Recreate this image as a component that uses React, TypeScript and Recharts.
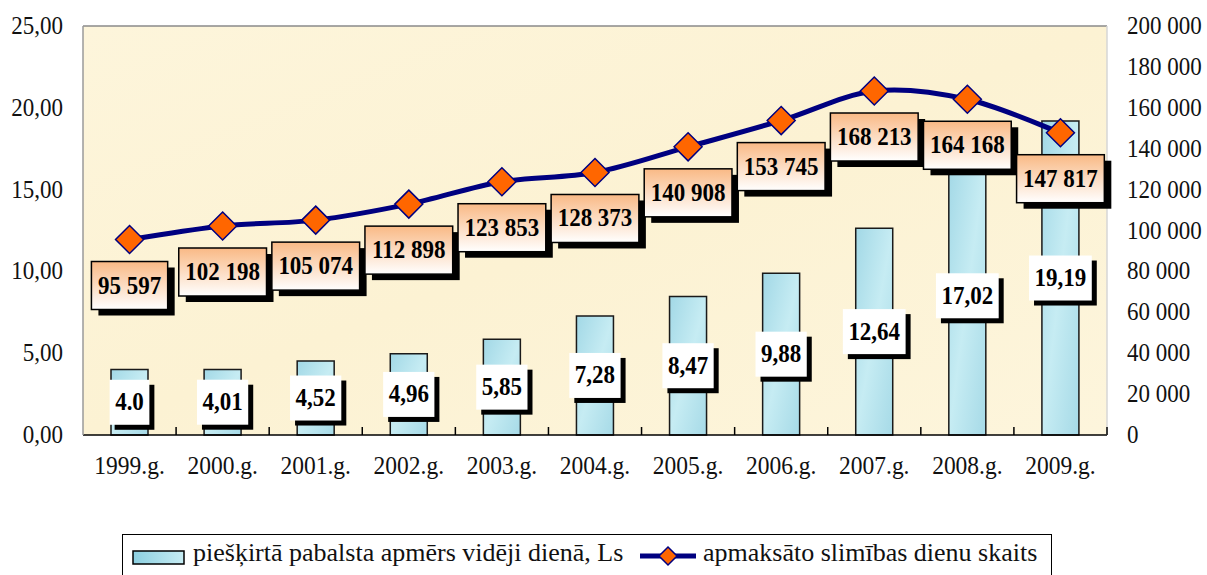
import {
  ComposedChart,
  Bar,
  Line,
  XAxis,
  YAxis,
  CartesianGrid,
  LabelList,
  ReferenceLine,
} from "recharts";

const years = ["1999.g.", "2000.g.", "2001.g.", "2002.g.", "2003.g.", "2004.g.", "2005.g.", "2006.g.", "2007.g.", "2008.g.", "2009.g."];
const benefit = [4.0, 4.01, 4.52, 4.96, 5.85, 7.28, 8.47, 9.88, 12.64, 17.02, 19.19];
const benefitLabels = ["4.0", "4,01", "4,52", "4,96", "5,85", "7,28", "8,47", "9,88", "12,64", "17,02", "19,19"];
const sickDays = [95597, 102198, 105074, 112898, 123853, 128373, 140908, 153745, 168213, 164168, 147817];
const leftTicks = [0, 5, 10, 15, 20, 25];
const rightTicks = [0, 20000, 40000, 60000, 80000, 100000, 120000, 140000, 160000, 180000, 200000];

const data = years.map((year, i) => ({
  year,
  benefit: benefit[i],
  benefitLabel: benefitLabels[i],
  sickDays: sickDays[i],
}));

const W = 1207;
const H = 575;
const LEFT_W = 83;
const RIGHT_W = 100;
const BAND = (W - LEFT_W - RIGHT_W) / years.length;
const FONT = "'Liberation Serif', 'Times New Roman', serif";

const fmtLeft = (v: number) => v.toFixed(2).replace(".", ",");
const fmtRight = (v: number) => String(v).replace(/\B(?=(\d{3})+(?!\d))/g, " ");

// bold 23px serif: rough text width
function textWidth(s: string) {
  let w = 0;
  for (const ch of s) w += /\d/.test(ch) ? 11.5 : 5.75;
  return w;
}

// Excel-like smoothed line (Catmull-Rom)
function smoothCurve(context: any) {
  let pts: [number, number][] = [];
  return {
    areaStart() {},
    areaEnd() {},
    lineStart() {
      pts = [];
    },
    point(x: number, y: number) {
      pts.push([+x, +y]);
    },
    lineEnd() {
      if (!pts.length) return;
      context.moveTo(pts[0][0], pts[0][1]);
      for (let i = 0; i < pts.length - 1; i++) {
        const p0 = pts[i - 1] || pts[i];
        const p1 = pts[i];
        const p2 = pts[i + 1];
        const p3 = pts[i + 2] || p2;
        context.bezierCurveTo(
          p1[0] + (p2[0] - p0[0]) / 6,
          p1[1] + (p2[1] - p0[1]) / 6,
          p2[0] - (p3[0] - p1[0]) / 6,
          p2[1] - (p3[1] - p1[1]) / 6,
          p2[0],
          p2[1]
        );
      }
    },
  };
}

const XTick = (props: any) => {
  const { x, y, payload, index, visibleTicksCount } = props;
  return (
    <g>
      {index > 0 && <line x1={x - BAND / 2} x2={x - BAND / 2} y1={y - 8} y2={y} stroke="#000" strokeWidth={1.5} />}
      {index === visibleTicksCount - 1 && (
        <line x1={x + BAND / 2} x2={x + BAND / 2} y1={y - 8} y2={y} stroke="#000" strokeWidth={1.5} />
      )}
      <text
        transform={`translate(${x},${y + 39}) scale(1,1.08)`}
        textAnchor="middle"
        fontSize={23.5}
        fontFamily={FONT}
        fill="#111"
      >
        {payload.value}
      </text>
    </g>
  );
};

const YTick = (props: any) => {
  const { x, y, payload, anchor, fmt } = props;
  return (
    <text
      transform={`translate(${x},${y + 8}) scale(1,1.08)`}
      textAnchor={anchor}
      fontSize={23}
      fontFamily={FONT}
      fill="#111"
    >
      {fmt(payload.value)}
    </text>
  );
};

const Diamond = (props: any) => {
  const { cx, cy } = props;
  if (cx == null || cy == null) return null;
  const r = 14;
  return (
    <polygon
      points={`${cx},${cy - r} ${cx + r},${cy} ${cx},${cy + r} ${cx - r},${cy}`}
      fill="#FF6600"
      stroke="#000080"
      strokeWidth={1.5}
    />
  );
};

const BarLabel = (props: any) => {
  const { x, y, width, height, value } = props;
  const cx = x + width / 2;
  const cy = y + height / 2;
  const w = textWidth(String(value)) + 11;
  const h = 45;
  return (
    <g>
      <rect x={cx - w / 2 + 5} y={cy - h / 2 + 5} width={w} height={h} fill="#000" />
      <rect x={cx - w / 2} y={cy - h / 2} width={w} height={h} fill="#fff" />
      <text
        transform={`translate(${cx},${cy + 8}) scale(1,1.07)`}
        textAnchor="middle"
        fontSize={23}
        fontWeight="bold"
        fontFamily={FONT}
        fill="#000"
      >
        {value}
      </text>
    </g>
  );
};

const LineLabel = (props: any) => {
  const { x, y, value } = props;
  const s = fmtRight(value);
  const w = textWidth(s) + 13;
  const h = 48;
  const top = y + 22;
  return (
    <g>
      <rect x={x - w / 2 + 7} y={top + 6} width={w} height={h} fill="#000" />
      <rect x={x - w / 2} y={top} width={w} height={h} fill="url(#peach)" stroke="#000" strokeWidth={1.5} />
      <text
        transform={`translate(${x},${top + h / 2 + 8}) scale(1,1.07)`}
        textAnchor="middle"
        fontSize={23}
        fontWeight="bold"
        fontFamily={FONT}
        fill="#000"
      >
        {s}
      </text>
    </g>
  );
};

export default function App() {
  return (
    <div style={{ position: "absolute", left: 0, top: 0, width: W, height: H, background: "#fff", overflow: "hidden" }}>
      <ComposedChart width={W} height={H} data={data} margin={{ top: 26, right: 0, bottom: 0, left: 0 }}>
        <defs>
          <linearGradient id="peach" x1="0" y1="0" x2="0" y2="1">
            <stop offset="0%" stopColor="#F9B985" />
            <stop offset="100%" stopColor="#FFFFFF" />
          </linearGradient>
          <linearGradient id="water" x1="0" y1="0" x2="1" y2="1">
            <stop offset="0%" stopColor="#A2D8E6" />
            <stop offset="50%" stopColor="#C6ECF3" />
            <stop offset="100%" stopColor="#A6DAE7" />
          </linearGradient>
          <linearGradient id="paper" x1="0" y1="0" x2="1" y2="1">
            <stop offset="0%" stopColor="#FDF5DB" />
            <stop offset="50%" stopColor="#FCF2D3" />
            <stop offset="100%" stopColor="#FDF5DC" />
          </linearGradient>
        </defs>
        <CartesianGrid horizontal={false} vertical={false} fill="url(#paper)" />
        <XAxis
          dataKey="year"
          height={140}
          interval={0}
          tickLine={false}
          tickSize={0}
          tickMargin={0}
          axisLine={{ stroke: "#000", strokeWidth: 1.5 }}
          tick={<XTick />}
        />
        <YAxis
          yAxisId="left"
          domain={[0, 25]}
          ticks={leftTicks}
          width={LEFT_W}
          tickLine={false}
          tickSize={0}
          tickMargin={20}
          axisLine={{ stroke: "#9a9a9a", strokeWidth: 1.5 }}
          tick={<YTick anchor="end" fmt={fmtLeft} />}
        />
        <YAxis
          yAxisId="right"
          orientation="right"
          domain={[0, 200000]}
          ticks={rightTicks}
          width={RIGHT_W}
          tickLine={false}
          tickSize={0}
          tickMargin={20}
          axisLine={{ stroke: "#d6d6d6", strokeWidth: 1.5 }}
          tick={<YTick anchor="start" fmt={fmtRight} />}
        />
        <ReferenceLine yAxisId="left" y={25} stroke="#8a8a8a" strokeWidth={1.5} />
        <Bar
          yAxisId="left"
          dataKey="benefit"
          barSize={37}
          fill="url(#water)"
          stroke="#1a1a1a"
          strokeWidth={1.5}
          isAnimationActive={false}
        >
          <LabelList dataKey="benefitLabel" content={<BarLabel />} />
        </Bar>
        <Line
          yAxisId="right"
          dataKey="sickDays"
          type={smoothCurve as any}
          stroke="#000080"
          strokeWidth={5}
          dot={<Diamond />}
          activeDot={false}
          isAnimationActive={false}
        >
          <LabelList dataKey="sickDays" content={<LineLabel />} />
        </Line>
      </ComposedChart>
      <div
        style={{
          position: "absolute",
          left: 122,
          top: 534,
          width: 930,
          height: 60,
          border: "1.5px solid #000",
          boxSizing: "border-box",
          fontFamily: FONT,
          fontSize: 26,
          color: "#111",
          whiteSpace: "nowrap",
          background: "#fff",
        }}
      >
        <svg width={54} height={16} style={{ position: "absolute", left: 9, top: 15 }}>
          <defs>
            <linearGradient id="legendWater" x1="0" y1="0" x2="1" y2="0">
              <stop offset="0%" stopColor="#8CCFE0" />
              <stop offset="100%" stopColor="#C6ECF3" />
            </linearGradient>
          </defs>
          <rect x={1} y={1} width={51} height={13} fill="url(#legendWater)" stroke="#000" strokeWidth={1.5} />
        </svg>
        <span style={{ position: "absolute", left: 70, top: 0, lineHeight: "36px" }}>
          piešķirtā pabalsta apmērs vidēji dienā, Ls
        </span>
        <svg width={58} height={22} style={{ position: "absolute", left: 516, top: 10 }}>
          <line x1={1} x2={57} y1={11} y2={11} stroke="#000080" strokeWidth={5} />
          <polygon points="29,2 38,11 29,20 20,11" fill="#FF6600" stroke="#000080" strokeWidth={1.5} />
        </svg>
        <span style={{ position: "absolute", left: 580, top: 0, lineHeight: "36px" }}>
          apmaksāto slimības dienu skaits
        </span>
      </div>
    </div>
  );
}
